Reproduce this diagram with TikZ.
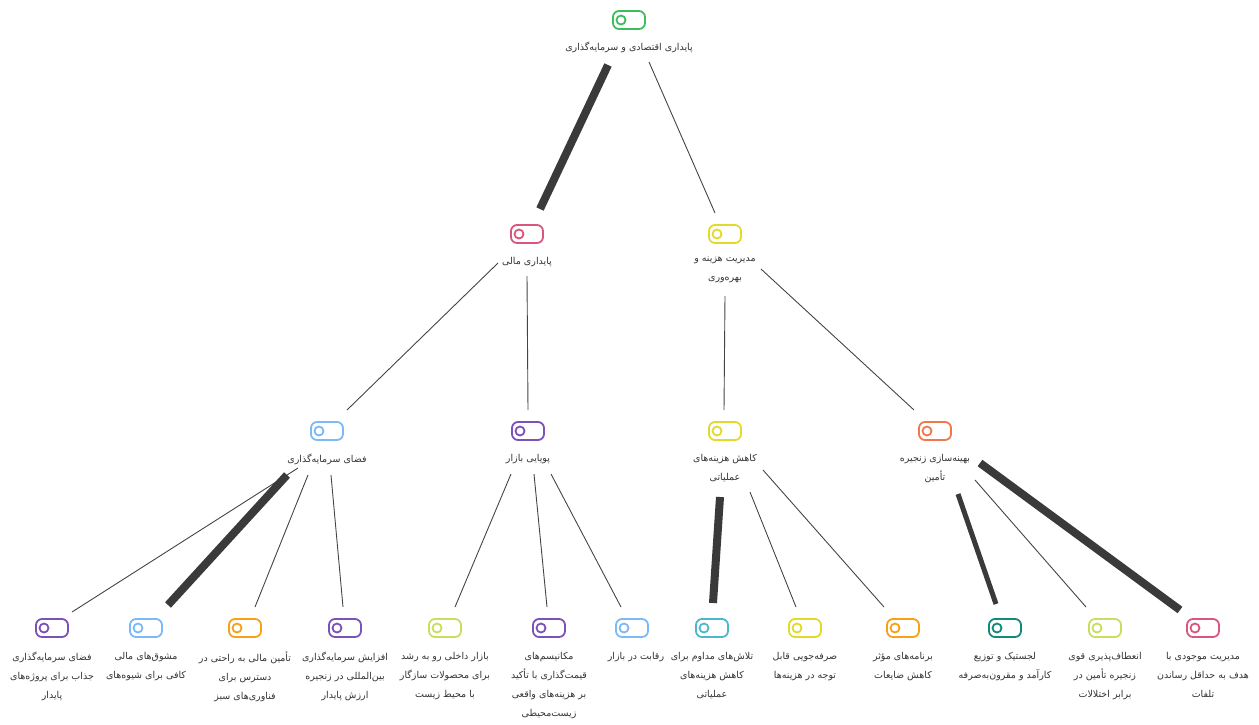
\documentclass[tikz,border=0pt]{standalone}
\usepackage{fontspec}
\newfontfamily\arabicfont[Script=Arabic]{DejaVu Sans}
\TeXXeTstate=1
\newcommand\fa[1]{\beginR#1\endR}
\definecolor{cgreen}{HTML}{3DBE5C}
\definecolor{cpink}{HTML}{D9577D}
\definecolor{cyellow}{HTML}{E3D92B}
\definecolor{cblue}{HTML}{7BBAF7}
\definecolor{cpurple}{HTML}{7B52B9}
\definecolor{cred}{HTML}{F2774A}
\definecolor{corange}{HTML}{F7A11A}
\definecolor{clime}{HTML}{C8DE5E}
\definecolor{ccyan}{HTML}{4DB8CB}
\definecolor{cteal}{HTML}{13897B}
\definecolor{textgray}{HTML}{333333}
\definecolor{linegray}{HTML}{444444}
\definecolor{heavygray}{HTML}{3A3A3A}
\tikzset{
  icon/.style={draw=#1, line width=1.8pt, rounded corners=6pt, minimum width=32pt, minimum height=18pt, inner sep=0pt,
    path picture={\draw[#1, line width=1.8pt] ([xshift=-8pt]path picture bounding box.center) circle (4.5pt);}},
  lbl/.style={anchor=north, align=center, inner sep=0pt, font=\arabicfont\fontsize{9.5}{19}\selectfont, text=textgray},
  thinedge/.style={draw=linegray, line width=0.9pt},
  heavyedge/.style={draw=heavygray, line width=8pt},
  midedge/.style={draw=heavygray, line width=5pt},
}
\begin{document}
\begin{tikzpicture}[x=1pt,y=-1pt]
\useasboundingbox (0,0) rectangle (1259,724);
% root
\node[icon=cgreen] (I0) at (629,20) {};
\node[lbl] (L0) at (629,42) {\fa{پایداری اقتصادی و سرمایه‌گذاری}};
% level 1
\node[icon=cpink] (Ia) at (527,234) {};
\node[lbl] (La) at (527,257) {\fa{پایداری مالی}};
\node[icon=cyellow] (Ib) at (725,234) {};
\node[lbl] (Lb) at (725,257) {\fa{مدیریت هزینه و}\\\fa{بهره‌وری}};
% level 2
\node[icon=cblue] (Iaa) at (327,431) {};
\node[lbl] (Laa) at (327,454) {\fa{فضای سرمایه‌گذاری}};
\node[icon=cpurple] (Iab) at (528,431) {};
\node[lbl] (Lab) at (528,454) {\fa{پویایی بازار}};
\node[icon=cyellow] (Iba) at (725,431) {};
\node[lbl] (Lba) at (725,454) {\fa{کاهش هزینه‌های}\\\fa{عملیاتی}};
\node[icon=cred] (Ibb) at (935,431) {};
\node[lbl] (Lbb) at (935,454) {\fa{بهینه‌سازی زنجیره}\\\fa{تأمین}};
% leaves
\node[icon=cpurple] (I1) at (52,628) {};
\node[lbl] (L1) at (52,652) {\fa{فضای سرمایه‌گذاری}\\\fa{جذاب برای پروژه‌های}\\\fa{پایدار}};
\node[icon=cblue] (I2) at (146,628) {};
\node[lbl] (L2) at (146,652) {\fa{مشوق‌های مالی}\\\fa{کافی برای شیوه‌های}};
\node[icon=corange] (I3) at (245,628) {};
\node[lbl] (L3) at (245,652) {\fa{تأمین مالی به راحتی در}\\\fa{دسترس برای}\\\fa{فناوری‌های سبز}};
\node[icon=cpurple] (I4) at (345,628) {};
\node[lbl] (L4) at (345,652) {\fa{افزایش سرمایه‌گذاری}\\\fa{بین‌المللی در زنجیره}\\\fa{ارزش پایدار}};
\node[icon=clime] (I5) at (445,628) {};
\node[lbl] (L5) at (445,652) {\fa{بازار داخلی رو به رشد}\\\fa{برای محصولات سازگار}\\\fa{با محیط زیست}};
\node[icon=cpurple] (I6) at (549,628) {};
\node[lbl] (L6) at (549,652) {\fa{مکانیسم‌های}\\\fa{قیمت‌گذاری با تأکید}\\\fa{بر هزینه‌های واقعی}\\\fa{زیست‌محیطی}};
\node[icon=cblue] (I7) at (632,628) {};
\node[lbl] (L7) at (636,652) {\fa{رقابت در بازار}};
\node[icon=ccyan] (I8) at (712,628) {};
\node[lbl] (L8) at (712,652) {\fa{تلاش‌های مداوم برای}\\\fa{کاهش هزینه‌های}\\\fa{عملیاتی}};
\node[icon=cyellow] (I9) at (805,628) {};
\node[lbl] (L9) at (805,652) {\fa{صرفه‌جویی قابل}\\\fa{توجه در هزینه‌ها}};
\node[icon=corange] (I10) at (903,628) {};
\node[lbl] (L10) at (903,652) {\fa{برنامه‌های مؤثر}\\\fa{کاهش ضایعات}};
\node[icon=cteal] (I11) at (1005,628) {};
\node[lbl] (L11) at (1005,652) {\fa{لجستیک و توزیع}\\\fa{کارآمد و مقرون‌به‌صرفه}};
\node[icon=clime] (I12) at (1105,628) {};
\node[lbl] (L12) at (1105,652) {\fa{انعطاف‌پذیری قوی}\\\fa{زنجیره تأمین در}\\\fa{برابر اختلالات}};
\node[icon=cpink] (I13) at (1203,628) {};
\node[lbl] (L13) at (1203,652) {\fa{مدیریت موجودی با}\\\fa{هدف به حداقل رساندن}\\\fa{تلفات}};
% edges
\draw[heavyedge] ([shift={(-21,45)}]I0.center) -- ([shift={(13,-25)}]Ia.center);
\draw[thinedge] ([shift={(20,42)}]I0.center) -- ([shift={(-10,-21)}]Ib.center);
\draw[thinedge] ([shift={(-29,29)}]Ia.center) -- ([shift={(20,-21)}]Iaa.center);
\draw[thinedge] ([shift={(0,42)}]Ia.center) -- ([shift={(0,-21)}]Iab.center);
\draw[thinedge] ([shift={(0,62)}]Ib.center) -- ([shift={(-1,-21)}]Iba.center);
\draw[thinedge] ([shift={(36,35)}]Ib.center) -- ([shift={(-21,-21)}]Ibb.center);
\draw[thinedge] ([shift={(-29,37)}]Iaa.center) -- ([shift={(20,-16)}]I1.center);
\draw[heavyedge] ([shift={(-40,44)}]Iaa.center) -- ([shift={(22,-23)}]I2.center);
\draw[thinedge] ([shift={(-19,44)}]Iaa.center) -- ([shift={(10,-21)}]I3.center);
\draw[thinedge] ([shift={(4,44)}]Iaa.center) -- ([shift={(-2,-21)}]I4.center);
\draw[thinedge] ([shift={(-17,43)}]Iab.center) -- ([shift={(10,-21)}]I5.center);
\draw[thinedge] ([shift={(6,43)}]Iab.center) -- ([shift={(-2,-21)}]I6.center);
\draw[thinedge] ([shift={(23,43)}]Iab.center) -- ([shift={(-11,-21)}]I7.center);
\draw[heavyedge] ([shift={(-5,66)}]Iba.center) -- ([shift={(1,-25)}]I8.center);
\draw[thinedge] ([shift={(25,61)}]Iba.center) -- ([shift={(-9,-21)}]I9.center);
\draw[thinedge] ([shift={(38,39)}]Iba.center) -- ([shift={(-19,-21)}]I10.center);
\draw[midedge] ([shift={(23,63)}]Ibb.center) -- ([shift={(-9,-24)}]I11.center);
\draw[thinedge] ([shift={(40,49)}]Ibb.center) -- ([shift={(-19,-21)}]I12.center);
\draw[heavyedge] ([shift={(45,32)}]Ibb.center) -- ([shift={(-23,-18)}]I13.center);
\end{tikzpicture}
\end{document}
